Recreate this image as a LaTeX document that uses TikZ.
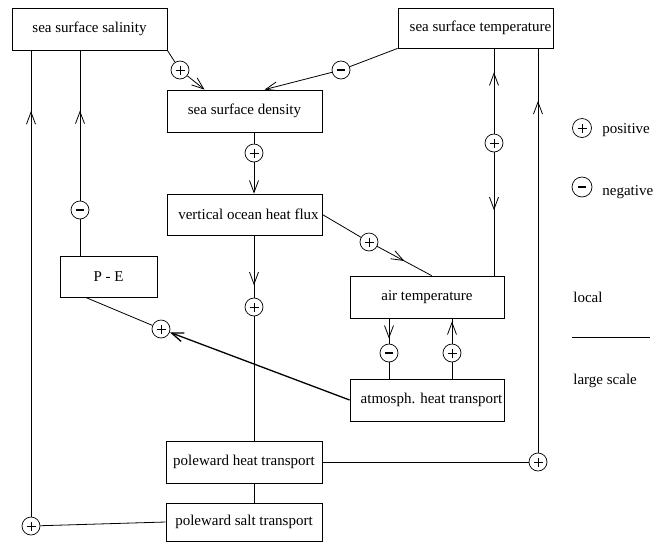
\documentclass[tikz,border=0pt]{standalone}
\usepackage{fontspec}
\setmainfont{Liberation Serif}
\usetikzlibrary{arrows.meta,decorations.markings,calc}
\begin{document}
\begin{tikzpicture}[x=1pt,y=-1pt, line width=0.8pt,
  box/.style={draw, rectangle, minimum width=155pt, minimum height=42pt, inner sep=0pt, font=\fontsize{15}{18}\selectfont},
  sgn/.style={draw, circle, minimum size=18pt, inner sep=0pt, fill=white, line width=0.7pt},
  psign/.style={sgn, path picture={
     \draw[line width=0.6pt] ([xshift=-4.5pt]path picture bounding box.center) -- ([xshift=4.5pt]path picture bounding box.center);
     \draw[line width=0.6pt] ([yshift=-4.5pt]path picture bounding box.center) -- ([yshift=4.5pt]path picture bounding box.center);}},
  msign/.style={sgn, path picture={
     \draw[line width=2.4pt] ([xshift=-4pt]path picture bounding box.center) -- ([xshift=4pt]path picture bounding box.center);}},
  midarr/.style={postaction={decorate}, decoration={markings, mark=at position #1 with {\arrow{Straight Barb[length=12pt,width=9pt]}}}},
  endarr/.style={-{Straight Barb[length=12pt,width=9pt]}},
  lbl/.style={inner sep=0pt, anchor=west, font=\fontsize{15}{18}\selectfont},
]
\useasboundingbox (0,0) rectangle (654,542);

% boxes
\node[box] (sal) at (89.5,29) {sea surface salinity};
\node[box, minimum height=40pt] (sst) at (475.5,28) {\hspace*{10pt}sea surface temperature};
\node[box] (dens) at (244.5,111) {sea surface density};
\node[box, minimum height=41pt] (vohf) at (244.5,214.5) {\hspace*{8pt}vertical ocean heat flux};
\node[box, minimum width=97pt, minimum height=41pt] (pe) at (108.5,276.5) {P - E};
\node[box, minimum width=154pt] (air) at (427,297) {air temperature};
\node[box, minimum width=154pt] (atm) at (427,400) {\hspace*{9pt}atmosph. heat transport};
\node[box, minimum width=156pt] (pht) at (244,462) {poleward heat transport};
\node[box, minimum width=156pt, minimum height=38pt] (pst) at (244,522) {poleward salt transport};

% signs
\node[psign] (s1) at (180,70) {};
\node[msign] (s2) at (341,70) {};
\node[psign] (s3) at (254,153) {};
\node[psign] (s4) at (369,242) {};
\node[psign] (s5) at (254,307) {};
\node[psign] (s6) at (494,143) {};
\node[msign] (s7) at (80,210) {};
\node[psign] (s8) at (161,329) {};
\node[msign] (s9) at (389,353) {};
\node[psign] (s10) at (452,353) {};
\node[psign] (s11) at (538,462) {};
\node[psign] (s12) at (31,526) {};

% connectors
\draw (sal.south east) -- (s1);
\draw[endarr] (s1) -- ($(dens.north west)+(38,0)$);
\draw (sst.south west) -- (s2);
\draw[endarr] (s2) -- ($(dens.north west)+(98,0)$);
\draw (dens.south -| s3) -- (s3);
\draw[endarr] (s3) -- (vohf.north -| s3);
\draw (vohf.east) -- (s4);
\draw[midarr=0.5] (s4) -- ($(air.north west)+(82,0)$);
\draw[midarr=0.8] (vohf.south -| s5) -- (s5);
\draw (s5) -- (pht.north -| s5);
\draw[midarr=0.72] (s6) -- (sst.south -| s6);
\draw[midarr=0.47] (s6) -- (air.north -| s6);
\draw (pht.east) -- (s11);
\draw[midarr=0.87] (s11) -- (sst.south -| s11);
\draw (pst.west) -- (s12);
\draw[midarr=0.87] (s12) -- (sal.south -| s12);
\draw (pe.north -| s7) -- (s7);
\draw[midarr=0.6] (s7) -- (sal.south -| s7);
\draw[endarr, line width=1.3pt] (atm.west) -- (s8);
\draw (s8) -- ($(pe.south west)+(26,0)$);
\draw[midarr=0.8] (air.south -| s9) -- (s9);
\draw (s9) -- (atm.north -| s9);
\draw (atm.north -| s10) -- (s10);
\draw[midarr=0.88] (s10) -- (air.south -| s10);
\draw (pht.south -| s5) -- (pst.north -| s5);

% legend
\node[psign, minimum size=19pt] (lp) at (582,128) {};
\node[lbl] (lpt) at (602,130) {positive};
\node[msign, minimum size=20pt] (lm) at (582,187) {};
\node[lbl] (lmt) at (602,192) {negative};
\node[lbl] (loc) at (573,297) {local};
\coordinate (la) at (572,337);
\coordinate (lb) at (650,337);
\draw (la) -- (lb);
\node[lbl] (lg) at (573,381) {large scale};
\end{tikzpicture}
\end{document}
